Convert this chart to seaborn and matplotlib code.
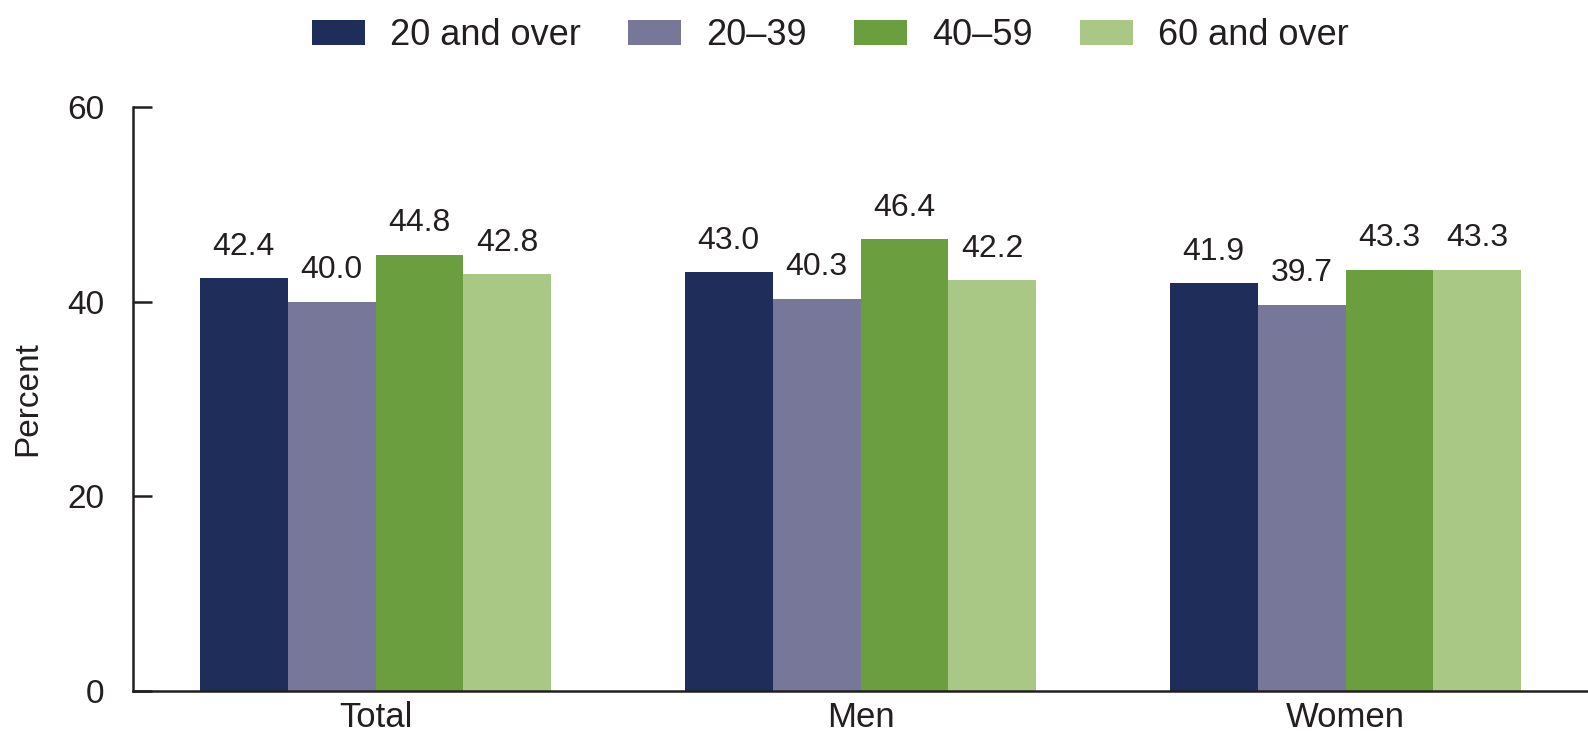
import matplotlib
matplotlib.use("Agg")
import matplotlib.pyplot as plt
from matplotlib.patches import Patch
import pandas as pd
import seaborn as sns

groups = ["Total", "Men", "Women"]
age_groups = ["20 and over", "20–39", "40–59", "60 and over"]
pct_20_over = [42.4, 43.0, 41.9]
pct_20_39 = [40.0, 40.3, 39.7]
pct_40_59 = [44.8, 46.4, 43.3]
pct_60_over = [42.8, 42.2, 43.3]
y_ticks = [0, 20, 40, 60]

colors = ["#1e2d5a", "#77779a", "#6b9e3e", "#a9c886"]
text_color = "#231f20"


def build_frame() -> pd.DataFrame:
    series = [pct_20_over, pct_20_39, pct_40_59, pct_60_over]
    rows = []
    for age, vals in zip(age_groups, series):
        for grp, v in zip(groups, vals):
            rows.append({"Group": grp, "Age": age, "Percent": v})
    return pd.DataFrame(rows)


def main() -> None:
    sns.set_style("ticks")
    plt.rcParams["font.family"] = ["Liberation Sans", "DejaVu Sans"]
    plt.rcParams["text.color"] = text_color

    df = build_frame()

    fig = plt.figure(figsize=(15.88, 7.42), dpi=100)
    ax = fig.add_axes([0.0838, 0.0687, 0.9162, 0.7871])

    sns.barplot(data=df, x="Group", y="Percent", hue="Age", order=groups,
                hue_order=age_groups, palette=colors, width=0.725,
                saturation=1, linewidth=0, ax=ax, legend=False)

    # value labels above each bar
    for cont in ax.containers:
        ax.bar_label(cont, fmt="%.1f", padding=12, fontsize=23, color=text_color)

    ax.set_xlim(-0.5, 2.5)
    ax.set_ylim(0, 60)
    ax.set_yticks(y_ticks)
    ax.set_xlabel("")
    ax.set_ylabel("Percent", fontsize=24, color=text_color)
    ax.yaxis.set_label_coords(-0.062, 0.5)

    sns.despine(ax=ax)
    for side in ["left", "bottom"]:
        ax.spines[side].set_linewidth(1.8)
        ax.spines[side].set_color(text_color)
    ax.tick_params(axis="y", direction="in", length=14, width=1.8,
                   color=text_color, labelsize=24, pad=21, labelcolor=text_color)
    ax.tick_params(axis="x", length=0, labelsize=25, pad=7, labelcolor=text_color)

    handles = [Patch(facecolor=c, edgecolor="none") for c in colors]
    fig.legend(handles, age_groups, loc="center", bbox_to_anchor=(0.523, 0.952),
               ncol=4, frameon=False, fontsize=26, handlelength=1.47,
               handleheight=0.72, handletextpad=0.7, columnspacing=1.3)

    fig.savefig("out.png", dpi=100)


if __name__ == "__main__":
    main()
